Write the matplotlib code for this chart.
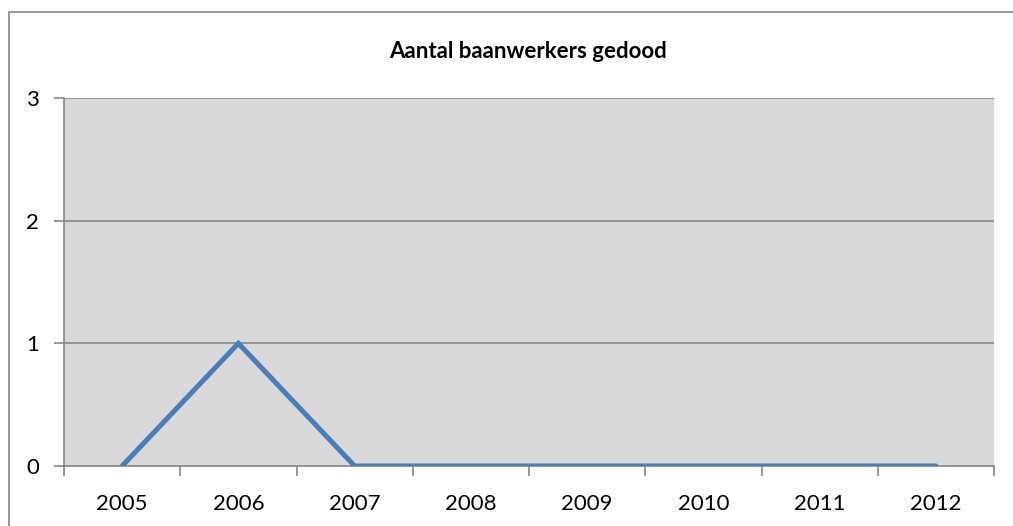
import matplotlib.pyplot as plt
from matplotlib.patches import Rectangle

years = ["2005", "2006", "2007", "2008", "2009", "2010", "2011", "2012"]
killed = [0, 1, 0, 0, 0, 0, 0, 0]
y_ticks = [0, 1, 2, 3]

plt.rcParams['font.family'] = ['Lato', 'DejaVu Sans']

W, H = 1013, 526
fig = plt.figure(figsize=(W / 100, H / 100), dpi=100)

# outer chart border (right and bottom run off the image)
fig.patches.append(Rectangle((9 / W, -0.05), 1.05, 1.05 - 12 / H,
                             transform=fig.transFigure, fill=False,
                             edgecolor="#868686", linewidth=1.2))

ax = fig.add_axes([64 / W, 60 / H, 930 / W, 368 / H])
ax.set_facecolor("#D9D9D9")

x = list(range(len(years)))
ax.plot(x, killed, color="#4A7EBB", linewidth=3.6, solid_capstyle="round",
        solid_joinstyle="miter", zorder=3)

ax.set_xlim(-0.5, len(years) - 0.5)
ax.set_ylim(0, 3)
ax.set_yticks(y_ticks)
ax.set_yticklabels([str(v) for v in y_ticks], fontsize=16)
ax.set_xticks(x)
ax.set_xticklabels(years, fontsize=16)
ax.tick_params(axis="x", length=0, pad=20)
ax.set_xticks([i - 0.5 for i in range(len(years) + 1)], minor=True)
ax.tick_params(axis="x", which="minor", length=7, color="#868686", width=1.2)
ax.tick_params(axis="y", length=7, color="#868686", width=1.2, pad=11)

for v in y_ticks[1:]:
    ax.axhline(v, color="#868686", linewidth=1.2, zorder=1)

for s in ["top", "right"]:
    ax.spines[s].set_visible(False)
for s in ["left", "bottom"]:
    ax.spines[s].set_color("#868686")
    ax.spines[s].set_linewidth(1.2)

fig.text(528 / W, 1 - 51 / H, "Aantal baanwerkers gedood", ha="center",
         va="center", fontsize=16, fontweight="bold")

fig.savefig("out.png", dpi=100)
